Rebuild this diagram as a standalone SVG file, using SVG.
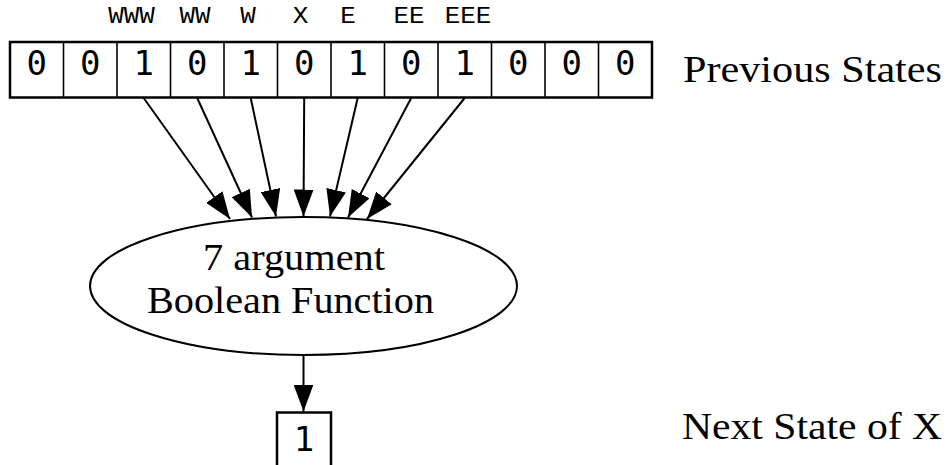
<svg xmlns="http://www.w3.org/2000/svg" width="946" height="465" viewBox="0 0 946 465">
  <style>
    .cell { fill: #fff; stroke: #000; stroke-width: 2.5; }
    .div { stroke: #000; stroke-width: 1.6; }
    .bit { font-family: "DejaVu Sans Mono", monospace; font-size: 34px; fill: #000; text-anchor: middle; }
    .lbl { font-family: "Courier New", "Liberation Mono", monospace; font-size: 24px; fill: #000; text-anchor: middle; }
    .serif { font-family: "Liberation Serif", serif; font-size: 37px; fill: #000; }
    .edge { stroke: #000; stroke-width: 2; fill: none; marker-end: url(#head); }
  </style>
  <defs>
    <marker id="head" markerUnits="userSpaceOnUse" markerWidth="27" markerHeight="20" refX="27" refY="10" orient="auto">
      <path d="M0,0 L27,10 L0,20 Z" fill="#000"/>
    </marker>
  </defs>

  <rect width="946" height="465" fill="#fff"/>

  <!-- neighbourhood labels -->
  <g id="labels">
    <text class="lbl" transform="translate(131.5,23) scale(1.08,1)">WWW</text>
    <text class="lbl" transform="translate(195,23) scale(1.08,1)">WW</text>
    <text class="lbl" transform="translate(248,23) scale(1.08,1)">W</text>
    <text class="lbl" transform="translate(300.5,23) scale(1.08,1)">X</text>
    <text class="lbl" transform="translate(348,23) scale(1.08,1)">E</text>
    <text class="lbl" transform="translate(409,23) scale(1.08,1)">EE</text>
    <text class="lbl" transform="translate(468,23) scale(1.08,1)">EEE</text>
  </g>

  <!-- row of previous cell states -->
  <g id="previous-states">
    <rect class="cell" x="10" y="42" width="642" height="55.5"/>
    <g class="div">
      <line x1="63.5" y1="42" x2="63.5" y2="97.5"/>
      <line x1="117" y1="42" x2="117" y2="97.5"/>
      <line x1="170.5" y1="42" x2="170.5" y2="97.5"/>
      <line x1="224" y1="42" x2="224" y2="97.5"/>
      <line x1="277.5" y1="42" x2="277.5" y2="97.5"/>
      <line x1="331" y1="42" x2="331" y2="97.5"/>
      <line x1="384.5" y1="42" x2="384.5" y2="97.5"/>
      <line x1="438" y1="42" x2="438" y2="97.5"/>
      <line x1="491.5" y1="42" x2="491.5" y2="97.5"/>
      <line x1="545" y1="42" x2="545" y2="97.5"/>
      <line x1="598.5" y1="42" x2="598.5" y2="97.5"/>
    </g>
    <text class="bit" x="36.7" y="75">0</text>
    <text class="bit" x="90.2" y="75">0</text>
    <text class="bit" x="143.7" y="75">1</text>
    <text class="bit" x="197.2" y="75">0</text>
    <text class="bit" x="250.7" y="75">1</text>
    <text class="bit" x="304.2" y="75">0</text>
    <text class="bit" x="357.7" y="75">1</text>
    <text class="bit" x="411.2" y="75">0</text>
    <text class="bit" x="464.7" y="75">1</text>
    <text class="bit" x="518.2" y="75">0</text>
    <text class="bit" x="571.7" y="75">0</text>
    <text class="bit" x="625.2" y="75">0</text>
  </g>
  <text class="serif" x="683" y="82" textLength="259" lengthAdjust="spacingAndGlyphs">Previous States</text>

  <!-- connectors -->
  <g id="connectors">
    <line class="edge" x1="143.7" y1="98" x2="230" y2="219"/>
    <line class="edge" x1="197.2" y1="98" x2="252" y2="217.5"/>
    <line class="edge" x1="250.7" y1="98" x2="276" y2="216.5"/>
    <line class="edge" x1="304.2" y1="98" x2="303.5" y2="216.5"/>
    <line class="edge" x1="357.7" y1="98" x2="330" y2="216.5"/>
    <line class="edge" x1="411.2" y1="98" x2="348" y2="217.5"/>
    <line class="edge" x1="464.7" y1="98" x2="367" y2="219"/>
    <line class="edge" x1="303.5" y1="355" x2="303.5" y2="411.5"/>
  </g>

  <!-- rule node -->
  <g id="boolean-function">
    <ellipse cx="303.5" cy="286" rx="213.5" ry="69" fill="#fff" stroke="#000" stroke-width="2"/>
    <text class="serif" x="203" y="270" textLength="182" lengthAdjust="spacingAndGlyphs">7 argument</text>
    <text class="serif" x="147" y="313" textLength="287" lengthAdjust="spacingAndGlyphs">Boolean Function</text>
  </g>

  <!-- resulting state -->
  <g id="next-state">
    <rect class="cell" x="277" y="412.5" width="54" height="60"/>
    <text class="bit" x="304" y="451">1</text>
  </g>
  <text class="serif" x="682" y="439" textLength="260" lengthAdjust="spacingAndGlyphs">Next State of X</text>
</svg>
